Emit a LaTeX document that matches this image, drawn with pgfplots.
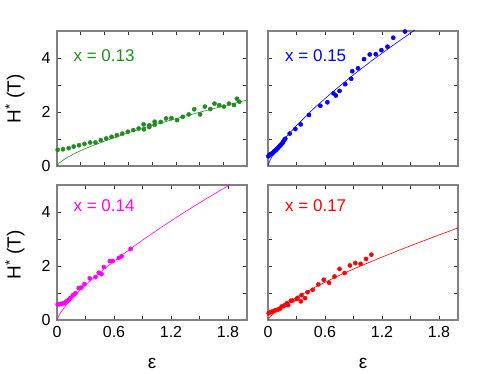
\documentclass[border=0pt]{standalone}
\usepackage{fontspec}
\setmainfont{Liberation Sans}
\usepackage{pgfplots}
\pgfplotsset{compat=1.18}

\definecolor{cgreen}{RGB}{34,139,34}
\definecolor{cblue}{RGB}{0,0,255}
\definecolor{cmag}{RGB}{255,0,255}
\definecolor{cred}{RGB}{255,0,0}

\pgfplotsset{
  panel/.style={
    scale only axis, width=190pt, height=135pt,
    xmin=0, xmax=2, ymin=0, ymax=5,
    tick align=inside, tick pos=both,
    major tick length=4pt, minor tick length=4pt,
    axis line style={black!50, line width=1.4pt},
    every tick/.style={black!80, line width=0.5pt},
    xtick={0,0.6,1.2,1.8}, minor xtick={0.3,0.9,1.5},
    ytick={0,2,4}, minor ytick={1,3},
    xticklabels={}, yticklabels={},
    ticklabel style={font=\fontsize{16}{16}\selectfont},
    xticklabel style={yshift=-3pt},
    yticklabel style={xshift=-3pt},
    /pgf/number format/assume math mode=true,
  },
  dots/.style={only marks, mark=*, mark size=2.1pt},
  fit/.style={no marks, line width=0.6pt},
}
\tikzset{lab/.style={anchor=west, font=\fontsize{17}{17}\selectfont}}

\begin{document}
\begin{tikzpicture}
\useasboundingbox (0,0) rectangle (485pt,374pt);

% x = 0.13
\begin{axis}[panel, at={(57pt,208pt)}, anchor=south west,
  xtick={0.5,1,1.5}, minor xtick={0.25,0.75,1.25,1.75},
  yticklabels={0,2,4}]
\addplot[dots, cgreen] coordinates {
(0.007,0.60)(0.063,0.62)(0.123,0.66)(0.176,0.72)(0.232,0.77)(0.289,0.82)
(0.349,0.87)(0.405,0.87)(0.461,0.96)(0.518,1.02)(0.574,1.08)(0.630,1.14)
(0.687,1.20)(0.746,1.27)(0.803,1.33)(0.859,1.39)(0.912,1.54)(0.915,1.36)
(0.972,1.51)(0.972,1.44)(1.028,1.64)(1.028,1.53)(1.092,1.63)(1.148,1.76)
(1.204,1.77)(1.264,1.70)(1.324,1.82)(1.387,1.91)(1.444,2.10)(1.507,1.91)
(1.556,2.20)(1.613,2.11)(1.658,2.31)(1.708,2.25)(1.757,2.20)(1.810,2.31)
(1.863,2.26)(1.894,2.49)(1.919,2.38)};
\addplot[fit, cgreen] coordinates {
(0,0)(0.02,0.10)(0.05,0.18)(0.1,0.30)(0.2,0.49)(0.3,0.65)(0.5,0.92)
(0.75,1.23)(1,1.50)(1.25,1.75)(1.5,1.99)(1.75,2.22)(2,2.44)};
\node[lab, cgreen] at (axis cs:0.137,4.1) {x = 0.13};
\end{axis}

% x = 0.15
\begin{axis}[panel, at={(268pt,208pt)}, anchor=south west]
\addplot[dots, cblue] coordinates {
(0.004,0.36)(0.011,0.40)(0.018,0.41)(0.025,0.43)(0.034,0.45)(0.042,0.46)
(0.053,0.49)(0.062,0.53)(0.070,0.56)(0.081,0.58)(0.088,0.61)(0.095,0.63)
(0.104,0.67)(0.112,0.70)(0.123,0.74)(0.131,0.77)(0.140,0.80)(0.152,0.85)
(0.158,0.89)(0.168,0.95)(0.182,1.01)(0.228,1.20)(0.288,1.37)(0.344,1.54)
(0.431,1.89)(0.551,2.23)(0.625,2.36)(0.689,2.69)(0.714,2.61)(0.753,2.78)
(0.813,3.03)(0.876,3.23)(0.887,3.51)(0.947,3.62)(1.011,3.96)(1.071,4.13)
(1.134,4.14)(1.194,4.29)(1.258,4.42)(1.318,4.75)(1.442,4.98)};
\addplot[fit, cblue] coordinates {
(0,0)(0.02,0.20)(0.05,0.40)(0.1,0.66)(0.2,1.11)(0.3,1.50)(0.5,2.19)
(0.7,2.80)(0.9,3.38)(1.1,3.92)(1.3,4.43)(1.53,5.00)(1.55,5.05)};
\node[lab, cblue] at (axis cs:0.144,4.07) {x = 0.15};
\end{axis}

% x = 0.14
\begin{axis}[panel, at={(57pt,54pt)}, anchor=south west,
  xticklabels={0,0.6,1.2,1.8}, yticklabels={0,2,4}]
\addplot[dots, cmag] coordinates {
(0.007,0.58)(0.025,0.58)(0.042,0.60)(0.060,0.61)(0.077,0.63)(0.099,0.69)
(0.123,0.74)(0.141,0.82)(0.169,0.92)(0.194,0.99)(0.229,1.18)(0.257,1.20)
(0.289,1.33)(0.345,1.54)(0.405,1.59)(0.440,1.75)(0.468,1.70)(0.493,1.96)
(0.556,2.18)(0.585,2.18)(0.651,2.30)(0.680,2.36)(0.775,2.63)};
\addplot[fit, cmag] coordinates {
(0,0)(0.02,0.17)(0.05,0.34)(0.1,0.57)(0.2,0.96)(0.3,1.30)(0.5,1.90)
(0.7,2.45)(0.9,2.96)(1.1,3.44)(1.3,3.90)(1.5,4.34)(1.7,4.76)(1.82,5.01)};
\node[lab, cmag] at (axis cs:0.137,4.23) {x = 0.14};
\end{axis}

% x = 0.17
\begin{axis}[panel, at={(268pt,54pt)}, anchor=south west,
  xticklabels={0,0.6,1.2,1.8}]
\addplot[dots, cred] coordinates {
(0.007,0.25)(0.028,0.29)(0.049,0.32)(0.071,0.35)(0.092,0.37)(0.113,0.40)
(0.127,0.42)(0.145,0.50)(0.163,0.52)(0.180,0.55)(0.198,0.62)(0.212,0.55)
(0.240,0.71)(0.258,0.72)(0.304,0.78)(0.311,0.82)(0.346,0.69)(0.353,0.92)
(0.389,0.81)(0.417,1.03)(0.470,1.12)(0.530,1.32)(0.587,1.49)(0.643,1.38)
(0.700,1.61)(0.753,1.89)(0.806,1.74)(0.862,2.02)(0.919,2.11)(0.975,2.08)
(1.032,2.26)(1.088,2.42)};
\addplot[fit, cred] coordinates {
(0,0)(0.02,0.11)(0.05,0.22)(0.1,0.37)(0.2,0.62)(0.3,0.84)(0.5,1.22)
(0.7,1.57)(0.9,1.89)(1.2,2.33)(1.5,2.75)(1.8,3.15)(2,3.41)};
\node[lab, cred] at (axis cs:0.144,4.23) {x = 0.17};
\end{axis}

\node[rotate=90, font=\fontsize{19}{19}\selectfont] at (15pt,275pt) {H\textsuperscript{*} (T)};
\node[rotate=90, font=\fontsize{19}{19}\selectfont] at (15pt,119pt) {H\textsuperscript{*} (T)};
\node[font=\fontsize{19}{19}\selectfont] at (152pt,11pt) {ε};
\node[font=\fontsize{19}{19}\selectfont] at (363pt,11pt) {ε};
\end{tikzpicture}
\end{document}
